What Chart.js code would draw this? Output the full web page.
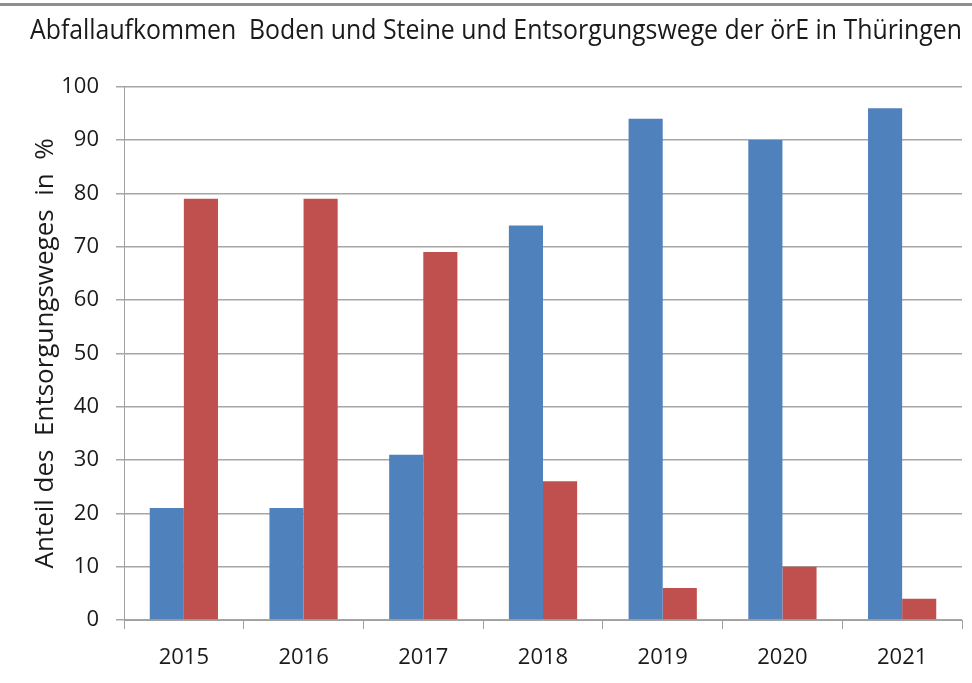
<!DOCTYPE html>
<html>
<head>
<meta charset="utf-8">
<script src="https://cdn.jsdelivr.net/npm/chart.js@4/dist/chart.umd.min.js"></script>
<style>
html,body{margin:0;padding:0;background:#fff;}
#wrap{position:relative;width:972px;height:683px;}
#topline{position:absolute;left:0;top:3px;width:972px;height:3px;background:#8f8f8f;}
canvas{position:absolute;left:0;top:0;}
</style>
</head>
<body>
<div id="wrap">
<div id="topline"></div>
<canvas id="c" width="972" height="683"></canvas>
</div>
<script>
const categories = ['2015','2016','2017','2018','2019','2020','2021'];
const seriesBlue = [21, 21, 31, 74, 94, 90, 96];
const seriesRed = [79, 79, 69, 26, 6, 10, 4];
const yTicks = [0,10,20,30,40,50,60,70,80,90,100];
const titleText = 'Abfallaufkommen  Boden und Steine und Entsorgungswege der örE in Thüringen';
const yTitle = 'Anteil des  Entsorgungsweges  in  %';

const FONT = "'Open Sans', sans-serif";
new Chart(document.getElementById('c'), {
  type: 'bar',
  data: {
    labels: categories,
    datasets: [
      {label: 'A', data: seriesBlue, backgroundColor: '#4F81BD', categoryPercentage: 0.57, barPercentage: 1},
      {label: 'B', data: seriesRed, backgroundColor: '#C0504D', categoryPercentage: 0.57, barPercentage: 1}
    ]
  },
  options: {
    responsive: false,
    animation: false,
    layout: {padding: {left: 30, right: 10, top: 4, bottom: 0}},
    plugins: {
      legend: {display: false},
      tooltip: {enabled: false},
      title: {display: true, text: titleText, color: '#1a1a1a', font: {family: FONT, size: 26.5, weight: 'normal'}, padding: {top: 12, bottom: 39}}
    },
    scales: {
      x: {
        afterFit: (s) => { s.height = 63; },
        grid: {display: true, drawOnChartArea: false, offset: true, color: '#A0A0A0', tickLength: 9, lineWidth: 1},
        border: {color: '#A0A0A0'},
        ticks: {color: '#1a1a1a', font: {family: FONT, size: 22}, padding: 16}
      },
      y: {
        min: 0, max: 100,
        afterFit: (s) => { s.width = 94; },
        afterBuildTicks: (ax) => { ax.ticks = yTicks.map(v => ({value: v})); },
        grid: {color: '#A6A6A6', tickLength: 8, lineWidth: 1.5},
        border: {color: '#A0A0A0'},
        ticks: {color: '#1a1a1a', font: {family: FONT, size: 22}, padding: 17},
        title: {display: true, text: yTitle, color: '#1a1a1a', font: {family: FONT, size: 26}, padding: {top: 0, bottom: 4}}
      }
    }
  }
});
</script>
</body>
</html>
